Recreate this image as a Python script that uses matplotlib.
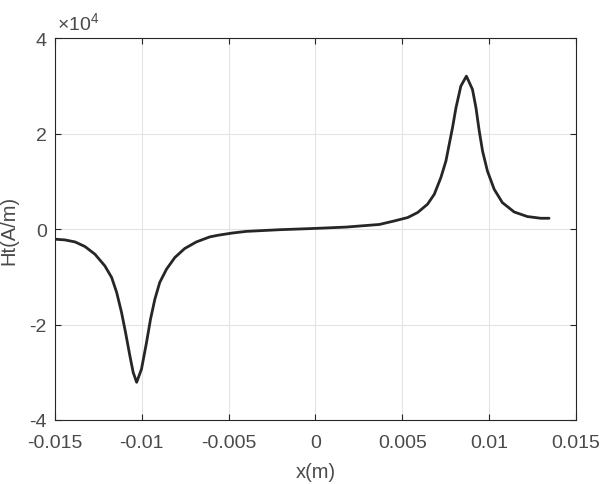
import matplotlib
matplotlib.use("Agg")
import matplotlib.pyplot as plt

plt.rcParams['font.family'] = ['Liberation Sans', 'DejaVu Sans']
plt.rcParams['mathtext.fontset'] = 'custom'
plt.rcParams['mathtext.rm'] = 'Liberation Sans'

x_m = [-0.01500, -0.01443, -0.01385, -0.01328, -0.01270, -0.01213, -0.01174,
       -0.01145, -0.01117, -0.01094, -0.01069, -0.01050, -0.01030, -0.01002,
       -0.00973, -0.00950, -0.00925, -0.00897, -0.00858, -0.00810, -0.00753,
       -0.00686, -0.00609, -0.00561, -0.00480, -0.00398, -0.00207, -0.00016, 0.00176,
       0.00368, 0.00454, 0.00531, 0.00588, 0.00645, 0.00684, 0.00722, 0.00751,
       0.00770, 0.00789, 0.00809, 0.00837, 0.00869, 0.00904, 0.00924, 0.00943,
       0.00962, 0.00990, 0.01029, 0.01076, 0.01144, 0.01220, 0.01297, 0.01345]
ht = [-2090, -2240, -2660, -3620, -5240, -7690, -10110,
      -13260, -17440, -21630, -26530, -30010, -32100, -29320,
      -23730, -18850, -14660, -11160, -8380, -5930, -4040,
      -2660, -1610, -1260, -800, -450, -100, 150, 450,
      1000, 1740, 2450, 3500, 5240, 7330, 10830, 14300,
      17800, 21300, 25480, 30010, 32100, 29320, 25480, 20580,
      16400, 12210, 8380, 5590, 3620, 2660, 2300, 2300]

xticks = [-0.015, -0.01, -0.005, 0, 0.005, 0.01, 0.015]
xtick_labels = ['-0.015', '-0.01', '-0.005', '0', '0.005', '0.01', '0.015']
yticks = [-40000, -20000, 0, 20000, 40000]
ytick_labels = ['-4', '-2', '0', '2', '4']

fig = plt.figure(figsize=(6.04, 4.85), dpi=100)
ax = fig.add_axes([0.0911, 0.132, 0.8625, 0.7866])
ax.plot(x_m, ht, color='#262626', lw=2.0, solid_capstyle='round', solid_joinstyle='round')
ax.set_xlim(-0.015, 0.015)
ax.set_ylim(-40000, 40000)
ax.set_xticks(xticks)
ax.set_xticklabels(xtick_labels)
ax.set_yticks(yticks)
ax.set_yticklabels(ytick_labels)
ax.grid(True, color='#e3e3e3', lw=0.8)
ax.set_axisbelow(True)
ax.tick_params(direction='in', top=True, right=True, length=4, width=0.8,
               colors='#262626', labelsize=14, labelcolor='#4a4a4a', pad=6)
ax.tick_params(axis='x', pad=10)
for s in ax.spines.values():
    s.set_color('#262626')
    s.set_linewidth(0.8)
ax.set_xlabel('x(m)', fontsize=14.5, color='#4a4a4a', labelpad=8)
ax.set_ylabel('Ht(A/m)', fontsize=14.5, color='#4a4a4a', labelpad=8)
ax.text(0.003, 1.015, r'$\times\mathregular{10^4}$', transform=ax.transAxes,
        fontsize=14, color='#4a4a4a', ha='left', va='bottom')
fig.savefig('out.png', dpi=100)
